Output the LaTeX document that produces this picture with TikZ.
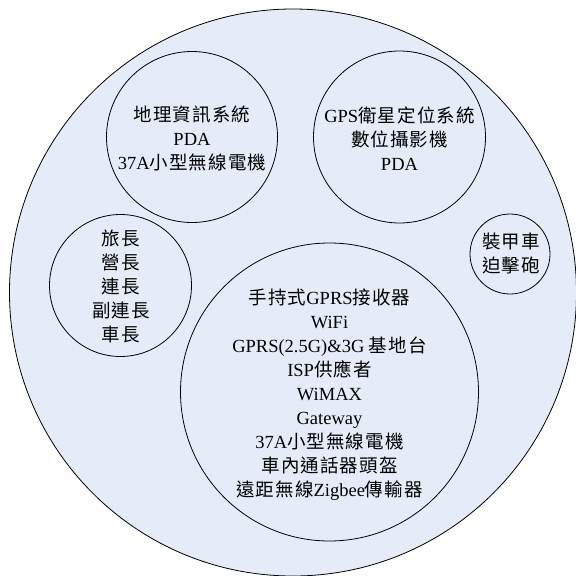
\documentclass[tikz,border=0pt]{standalone}
\usepackage{fontspec}
\setmainfont{Liberation Serif}
\newfontfamily\cjkfont[LetterSpace=6]{Noto Sans CJK TC}
\newcommand\zh[1]{{\cjkfont #1}}
\definecolor{bgfill}{RGB}{230,236,247}
\begin{document}
\begin{tikzpicture}[x=1pt,y=-1pt,
  ring/.style={circle,draw=black,line width=0.8pt,inner sep=0pt,minimum size=#1},
  txt/.style={align=center,font=\fontsize{18.5}{24}\selectfont,inner sep=0pt}]
\useasboundingbox (0,0) rectangle (576,576);
\clip (0,0) rectangle (576,576);
\node[ring=567pt,fill=bgfill] (outer) at (293,292.5) {};
\node[ring=171pt] (geo) at (192,137) {};
\node[ring=172pt] (gps) at (399.5,137) {};
\node[ring=142pt] (rank) at (120.5,285.5) {};
\node[ring=80pt] (veh) at (510,254) {};
\node[ring=298pt] (net) at (329.5,392) {};
\node[txt] (tgeo) at (192,138) {\zh{地理資訊系統}\\PDA\\37A\zh{小型無線電機}};
\node[txt] (tgps) at (399.5,138.5) {GPS\zh{衛星定位系統}\\\zh{數位攝影機}\\PDA};
\node[txt] (trank) at (121,286) {\zh{旅長}\\\zh{營長}\\\zh{連長}\\\zh{副連長}\\\zh{車長}};
\node[txt] (tveh) at (511,253.5) {\zh{裝甲車}\\\zh{迫擊砲}};
\node[txt] (tnet) at (329.5,395) {\zh{手持式}GPRS\zh{接收器}\\WiFi\\GPRS(2.5G)\&3G \zh{基地台}\\ISP\zh{供應者}\\WiMAX\\Gateway\\37A\zh{小型無線電機}\\\zh{車內通話器頭盔}\\\zh{遠距無線}Zigbee\zh{傳輸器}};
\end{tikzpicture}
\end{document}
